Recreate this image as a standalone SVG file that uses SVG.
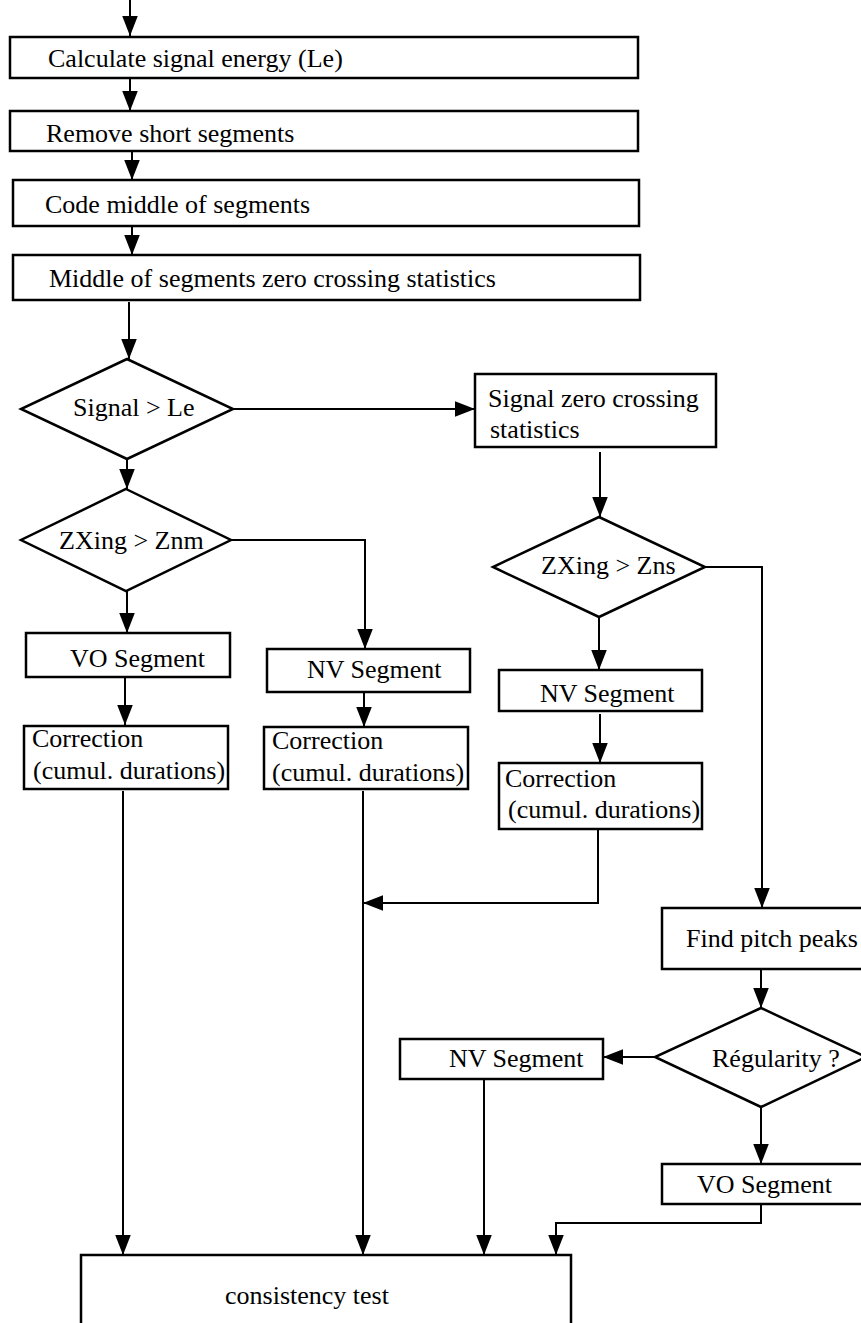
<svg xmlns="http://www.w3.org/2000/svg" width="861" height="1323" viewBox="0 0 861 1323">
<defs>
<style>
.box{fill:#fff;stroke:#000;stroke-width:2.5}
.ln{fill:none;stroke:#000;stroke-width:2}
.t{font-family:"Liberation Serif","Times New Roman",serif;font-size:26px;fill:#000}
</style>
<marker id="ah" markerUnits="userSpaceOnUse" markerWidth="20" markerHeight="16" viewBox="0 0 18 14" refX="18" refY="7" orient="auto">
<path d="M0,0 L18,7 L0,14 Z" fill="#000"/>
</marker>
</defs>
<rect width="861" height="1323" fill="#fff"/>
<g id="connectors">
<path class="ln" d="M130,0 V36" marker-end="url(#ah)"/>
<path class="ln" d="M130,79 V111" marker-end="url(#ah)"/>
<path class="ln" d="M132,151 V180" marker-end="url(#ah)"/>
<path class="ln" d="M132,226 V255" marker-end="url(#ah)"/>
<path class="ln" d="M129,302 V359" marker-end="url(#ah)"/>
<path class="ln" d="M233,409 H475" marker-end="url(#ah)"/>
<path class="ln" d="M127,459 V489" marker-end="url(#ah)"/>
<path class="ln" d="M231,540 H365 V649" marker-end="url(#ah)"/>
<path class="ln" d="M127,591 V633" marker-end="url(#ah)"/>
<path class="ln" d="M125,677 V725" marker-end="url(#ah)"/>
<path class="ln" d="M364,692 V727" marker-end="url(#ah)"/>
<path class="ln" d="M600,452 V517" marker-end="url(#ah)"/>
<path class="ln" d="M599,618 V670" marker-end="url(#ah)"/>
<path class="ln" d="M600,714 V763" marker-end="url(#ah)"/>
<path class="ln" d="M705,567 H762 V908" marker-end="url(#ah)"/>
<path class="ln" d="M598,829 V903 H363" marker-end="url(#ah)"/>
<path class="ln" d="M123,791 V1255" marker-end="url(#ah)"/>
<path class="ln" d="M363,791 V1255" marker-end="url(#ah)"/>
<path class="ln" d="M761,970 V1008" marker-end="url(#ah)"/>
<path class="ln" d="M655,1057 H603" marker-end="url(#ah)"/>
<path class="ln" d="M761,1108 V1164" marker-end="url(#ah)"/>
<path class="ln" d="M484,1079 V1255" marker-end="url(#ah)"/>
<path class="ln" d="M761,1204 V1223 H556 V1255" marker-end="url(#ah)"/>
</g>
<g id="n1"><rect class="box" x="10" y="37" width="628" height="41"/><text class="t" x="48" y="67">Calculate signal energy (Le)</text></g>
<g id="n2"><rect class="box" x="10" y="111" width="628" height="40"/><text class="t" x="46" y="142">Remove short segments</text></g>
<g id="n3"><rect class="box" x="13" y="180" width="626" height="46"/><text class="t" x="45" y="213">Code middle of segments</text></g>
<g id="n4"><rect class="box" x="13" y="255" width="627" height="45"/><text class="t" x="49" y="287">Middle of segments zero crossing statistics</text></g>
<g id="d1"><polygon class="box" points="127,359 233,409 127,459 21,409"/><text class="t" x="73" y="416">Signal &gt; Le</text></g>
<g id="n5"><rect class="box" x="475" y="374" width="241" height="73"/><text class="t" x="488" y="407">Signal zero crossing</text><text class="t" x="490" y="438">statistics</text></g>
<g id="d2"><polygon class="box" points="126,489 231,540 126,591 21,540"/><text class="t" x="59" y="549">ZXing &gt; Znm</text></g>
<g id="d3"><polygon class="box" points="599,517 705,567 599,617 493,567"/><text class="t" x="541" y="574">ZXing &gt; Zns</text></g>
<g id="n6"><rect class="box" x="26" y="633" width="204" height="44"/><text class="t" x="70" y="667">VO Segment</text></g>
<g id="n7"><rect class="box" x="267" y="649" width="203" height="43"/><text class="t" x="307" y="678">NV Segment</text></g>
<g id="n8"><rect class="box" x="24" y="726" width="204" height="63"/><text class="t" x="32" y="747">Correction</text><text class="t" x="33" y="779">(cumul. durations)</text></g>
<g id="n9"><rect class="box" x="264" y="727" width="204" height="62"/><text class="t" x="272" y="749">Correction</text><text class="t" x="272" y="781">(cumul. durations)</text></g>
<g id="n10"><rect class="box" x="499" y="670" width="203" height="41"/><text class="t" x="540" y="702">NV Segment</text></g>
<g id="n11"><rect class="box" x="499" y="763" width="203" height="66"/><text class="t" x="505" y="787">Correction</text><text class="t" x="508" y="818">(cumul. durations)</text></g>
<g id="n12"><rect class="box" x="662" y="908" width="212" height="61"/><text class="t" x="686" y="947">Find pitch peaks</text></g>
<g id="d4"><polygon class="box" points="761,1008 866,1057 761,1107 655,1057"/><text class="t" x="712" y="1067">Régularity ?</text></g>
<g id="n13"><rect class="box" x="400" y="1039" width="203" height="40"/><text class="t" x="449" y="1067">NV Segment</text></g>
<g id="n14"><rect class="box" x="662" y="1164" width="212" height="40"/><text class="t" x="697" y="1193">VO Segment</text></g>
<g id="n15"><rect class="box" x="81" y="1255" width="490" height="100"/><text class="t" x="225" y="1304">consistency test</text></g>
</svg>
